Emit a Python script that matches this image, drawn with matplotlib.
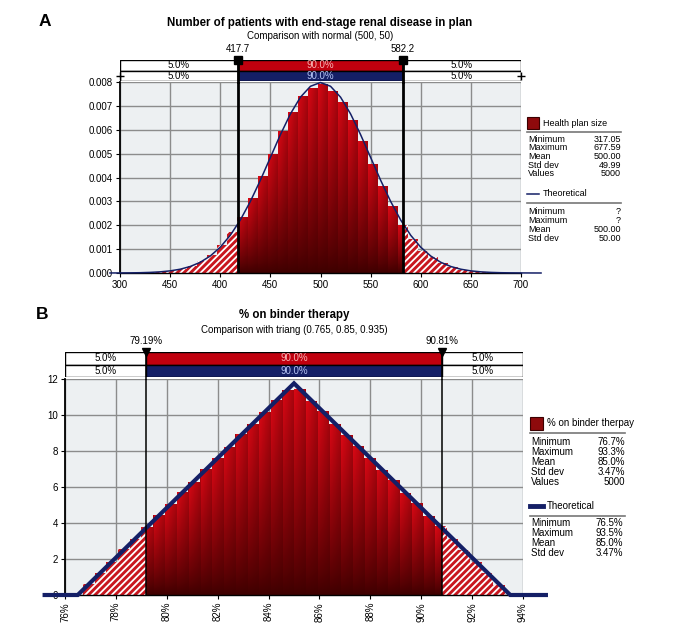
import numpy as np
import matplotlib
matplotlib.use("Agg")
import matplotlib.pyplot as plt
from matplotlib.path import Path
from matplotlib.patches import PathPatch, Rectangle
from matplotlib.lines import Line2D

plt.rcParams['font.family'] = ['Liberation Sans', 'DejaVu Sans']
plt.rcParams['hatch.linewidth'] = 1.3

# ---------------- data: panel A (health plan size) ----------------
a_bin_start = 317.05
a_bin_width = 10.015
a_heights = [0.00002, 0.00003, 0.00005, 0.00009, 0.00017, 0.00031, 0.00050, 0.00077,
             0.00118, 0.00172, 0.00233, 0.00314, 0.00405, 0.00498, 0.00593, 0.00676,
             0.00742, 0.00774, 0.00791, 0.00763, 0.00715, 0.00641, 0.00551, 0.00456,
             0.00363, 0.00279, 0.00202, 0.00142, 0.00092, 0.00066, 0.00040, 0.00024,
             0.00014, 0.00008, 0.00004, 0.00002]
a_theo_x = [290, 300, 310, 320, 330, 340, 350, 360, 370, 380, 390, 400, 410, 420, 430,
            440, 450, 460, 470, 480, 490, 500, 510, 520, 530, 540, 550, 560, 570, 580,
            590, 600, 610, 620, 630, 640, 650, 660, 670, 680, 690, 700, 710, 720]
a_theo_y = [0.000001, 0.000003, 0.000006, 0.000012, 0.000025, 0.000048, 0.000089,
            0.000158, 0.000272, 0.000448, 0.000710, 0.001080, 0.001579, 0.002218,
            0.002995, 0.003884, 0.004839, 0.005794, 0.006664, 0.007365, 0.007821,
            0.007979, 0.007821, 0.007365, 0.006664, 0.005794, 0.004839, 0.003884,
            0.002995, 0.002218, 0.001579, 0.001080, 0.000710, 0.000448, 0.000272,
            0.000158, 0.000089, 0.000048, 0.000025, 0.000012, 0.000006, 0.000003,
            0.000001, 0.0]
a_lo, a_hi = 417.7, 582.2
a_xticks = [300, 350, 400, 450, 500, 550, 600, 650, 700]
a_xticklabels = ["300", "450", "400", "450", "500", "550", "600", "650", "700"]
a_yticks = [0.000, 0.001, 0.002, 0.003, 0.004, 0.005, 0.006, 0.007, 0.008]
a_stats_labels = ["Minimum", "Maximum", "Mean", "Std dev", "Values"]
a_stats_values = ["317.05", "677.59", "500.00", "49.99", "5000"]
a_theo_labels = ["Minimum", "Maximum", "Mean", "Std dev"]
a_theo_values = ["?", "?", "500.00", "50.00"]

# ---------------- data: panel B (% on binder therapy) ----------------
b_bin_start = 76.7
b_bin_width = 0.4611
b_heights = [0.62, 1.22, 1.85, 2.55, 3.12, 3.80, 4.45, 5.05, 5.72, 6.30, 6.98, 7.62,
             8.22, 8.92, 9.50, 10.15, 10.85, 11.40, 11.45, 10.80, 10.20, 9.52, 8.88,
             8.28, 7.60, 6.95, 6.38, 5.68, 5.10, 4.40, 3.82, 3.12, 2.50, 1.85, 1.25, 0.58]
b_theo_x = [75.2, 76.5, 85.0, 93.5, 94.9]
b_theo_y = [0.0, 0.0, 11.76, 0.0, 0.0]
b_lo, b_hi = 79.19, 90.81
b_xticks = [76, 78, 80, 82, 84, 86, 88, 90, 92, 94]
b_yticks = [0, 2, 4, 6, 8, 10, 12]
b_stats_labels = ["Minimum", "Maximum", "Mean", "Std dev", "Values"]
b_stats_values = ["76.7%", "93.3%", "85.0%", "3.47%", "5000"]
b_theo_labels = ["Minimum", "Maximum", "Mean", "Std dev"]
b_theo_values = ["76.5%", "93.5%", "85.0%", "3.47%"]

W, H = 699, 629
RED = '#c0000e'
NAVY = '#141f66'
BG = '#edf0f2'
GRID = '#8c8c8c'


def fx(x):
    return x / W


def fy(y):
    return 1 - y / H


def draw_bars(ax, start, width, heights, lo, hi):
    heights = np.asarray(heights)
    n = len(heights)
    edges = start + width * np.arange(n + 1)
    verts, codes = [], []
    for i, h in enumerate(heights):
        x0, x1 = edges[i], edges[i + 1]
        s0, s1 = max(x0, lo), min(x1, hi)
        if s1 > s0:
            verts += [(s0, 0), (s1, 0), (s1, h), (s0, h), (s0, 0)]
            codes += [Path.MOVETO, Path.LINETO, Path.LINETO, Path.LINETO, Path.CLOSEPOLY]
        if x0 < lo:
            ax.bar(x0, h, width=min(x1, lo) - x0, align='edge', color='#c8161e',
                   edgecolor='white', hatch='/////', linewidth=0, zorder=1.5)
        if x1 > hi:
            ax.bar(max(x0, hi), h, width=x1 - max(x0, hi), align='edge', color='#c8161e',
                   edgecolor='white', hatch='/////', linewidth=0, zorder=1.5)
    # gradient image, clipped to the solid bars
    nx, ny = 1400, 400
    xs = np.linspace(edges[0], edges[-1], nx)
    ys = np.linspace(0, heights.max(), ny)
    pos = (xs - start) / width
    idx = np.clip(pos.astype(int), 0, n - 1)
    frac = pos - idx
    rel = np.clip(ys[:, None] / heights[idx][None, :], 0, 1)
    b = rel ** 0.8 * (1 - 0.35 * frac[None, :])
    dark = np.array([0.24, 0.0, 0.0])
    bright = np.array([0.86, 0.03, 0.08])
    rgb = dark + (bright - dark) * b[..., None]
    im = ax.imshow(rgb, extent=[edges[0], edges[-1], 0, heights.max()], origin='lower',
                   aspect='auto', interpolation='nearest', zorder=1.5)
    patch = PathPatch(Path(verts, codes), transform=ax.transData, facecolor='none',
                      edgecolor='none')
    im.set_clip_path(patch)


def style_axes(ax):
    ax.set_facecolor(BG)
    ax.grid(True, color=GRID, linewidth=1.0)
    ax.set_axisbelow(True)
    for s in ['top', 'right']:
        ax.spines[s].set_visible(False)
    ax.spines['left'].set_color('black')
    ax.spines['left'].set_linewidth(1.3)
    ax.spines['bottom'].set_color('black')
    ax.spines['bottom'].set_linewidth(1.0)
    ax.tick_params(labelsize=7, length=3, width=0.8, pad=2)


def draw_bands(fig, rect, xlim, lo, hi, lo_label, hi_label, marker, end_marks):
    bx = fig.add_axes(rect)
    bx.set_xlim(*xlim)
    bx.set_ylim(0, 2)
    bx.axis('off')
    x0, x1 = xlim
    for row, col, tcol in [(1, RED, '#f6b4b4'), (0, NAVY, '#b4c2f2')]:
        bx.add_patch(Rectangle((x0, row), lo - x0, 1, facecolor='white', edgecolor='black', lw=1))
        bx.add_patch(Rectangle((lo, row), hi - lo, 1, facecolor=col, edgecolor='black', lw=1))
        bx.add_patch(Rectangle((hi, row), x1 - hi, 1, facecolor='white', edgecolor='black', lw=1))
        bx.text((x0 + lo) / 2, row + 0.5, "5.0%", ha='center', va='center', fontsize=7)
        bx.text((lo + hi) / 2, row + 0.5, "90.0%", ha='center', va='center', fontsize=7,
                color=tcol)
        bx.text((hi + x1) / 2, row + 0.5, "5.0%", ha='center', va='center', fontsize=7)
    for xv, lab in [(lo, lo_label), (hi, hi_label)]:
        bx.plot([xv], [2], marker=marker, color='black', markersize=6,
                clip_on=False, zorder=5)
        bx.annotate(lab, (xv, 2), xytext=(0, 4), textcoords='offset points', ha='center',
                    va='bottom', fontsize=7)
    if end_marks:
        bx.plot([x0, x1], [0.5, 0.5], linestyle='none', marker='+', color='black',
                markersize=6, mew=1, clip_on=False, zorder=5)
    return bx


def draw_legend(fig, x_left, x_right, y_sq, sq, title, stats_l, stats_v, y_stats, dy,
                y_theo, theo_lw, y_sep2, theo_l, theo_v, y_theo_stats, fs, x_right2):
    fig.patches.append(Rectangle((fx(x_left), fy(y_sq + sq)), sq / W, sq / H,
                                 facecolor='#8e0a0c', edgecolor='#3a0000', lw=0.8,
                                 transform=fig.transFigure, figure=fig))
    fig.text(fx(x_left + sq + 4), fy(y_sq + sq / 2), title, fontsize=fs, va='center')
    fig.add_artist(Line2D([fx(x_left), fx(x_right)], [fy(y_sq + sq + 3)] * 2, color='#777777',
                          lw=1.2, transform=fig.transFigure))
    for i, (l, v) in enumerate(zip(stats_l, stats_v)):
        fig.text(fx(x_left + 1), fy(y_stats + i * dy), l, fontsize=fs, va='center')
        fig.text(fx(x_right), fy(y_stats + i * dy), v, fontsize=fs, va='center', ha='right')
    fig.add_artist(Line2D([fx(x_left), fx(x_left + sq)], [fy(y_theo)] * 2, color=NAVY,
                          lw=theo_lw, transform=fig.transFigure))
    fig.text(fx(x_left + sq + 4), fy(y_theo), "Theoretical", fontsize=fs, va='center')
    fig.add_artist(Line2D([fx(x_left), fx(x_right)], [fy(y_sep2)] * 2, color='#777777',
                          lw=1.2, transform=fig.transFigure))
    for i, (l, v) in enumerate(zip(theo_l, theo_v)):
        fig.text(fx(x_left + 1), fy(y_theo_stats + i * dy), l, fontsize=fs, va='center')
        fig.text(fx(x_right2), fy(y_theo_stats + i * dy), v, fontsize=fs, va='center',
                 ha='right')


fig = plt.figure(figsize=(W / 100, H / 100), dpi=100)

# ================= Panel A =================
ax_a = fig.add_axes([fx(120), fy(273), 401 / W, 191 / H])
style_axes(ax_a)
ax_a.set_xlim(300, 700)
ax_a.set_ylim(0, 0.008)
ax_a.set_xticks(a_xticks)
ax_a.set_xticklabels(a_xticklabels)
ax_a.set_yticks(a_yticks)
ax_a.set_yticklabels([f"{v:.3f}" for v in a_yticks])
draw_bars(ax_a, a_bin_start, a_bin_width, a_heights, a_lo, a_hi)
ax_a.plot(a_theo_x, a_theo_y, color=NAVY, lw=1.1, zorder=3, clip_on=False)
for xv in (a_lo, a_hi):
    ax_a.axvline(xv, color='black', lw=2, zorder=4)
draw_bands(fig, [fx(120), fy(81), 401 / W, 21 / H], (300, 700), a_lo, a_hi,
           "417.7", "582.2", 's', True)
for xv in (a_lo, a_hi):
    fig.add_artist(Line2D([fx(120 + (xv - 300) * 401 / 400)] * 2, [fy(82), fy(60)],
                          color='black', lw=2, transform=fig.transFigure))

fig.text(fx(45), fy(22), "A", fontsize=12.5, fontweight='bold', ha='center', va='center')
fig.text(fx(320), fy(23), "Number of patients with end-stage renal disease in plan",
         fontsize=8.3, fontweight='bold', ha='center', va='center')
fig.text(fx(320), fy(36), "Comparison with normal (500, 50)", fontsize=7, ha='center',
         va='center')

draw_legend(fig, 527, 621, 117, 12, "Health plan size", a_stats_labels, a_stats_values,
            139, 8.7, 194, 1.1, 203, a_theo_labels, a_theo_values, 212, 6.5, 621)

# ================= Panel B =================
ax_b = fig.add_axes([fx(65), fy(595), 458 / W, 216 / H])
style_axes(ax_b)
ax_b.set_xlim(76, 94)
ax_b.set_ylim(0, 12)
ax_b.set_xticks(b_xticks)
ax_b.set_xticklabels([f"{v}%" for v in b_xticks], rotation=90)
ax_b.set_yticks(b_yticks)
draw_bars(ax_b, b_bin_start, b_bin_width, b_heights, b_lo, b_hi)
ax_b.plot(b_theo_x, b_theo_y, color=NAVY, lw=3, zorder=3, clip_on=False,
          solid_joinstyle='miter')
for xv in (b_lo, b_hi):
    ax_b.axvline(xv, color='black', lw=1.1, zorder=4)
draw_bands(fig, [fx(65), fy(377), 458 / W, 25 / H], (76, 94), b_lo, b_hi,
           "79.19%", "90.81%", 'v', False)
for xv in (b_lo, b_hi):
    fig.add_artist(Line2D([fx(65 + (xv - 76) * 458 / 18)] * 2, [fy(379), fy(352)],
                          color='black', lw=1.1, transform=fig.transFigure))

fig.text(fx(42), fy(315), "B", fontsize=12.5, fontweight='bold', ha='center', va='center')
fig.text(fx(294), fy(315), "% on binder therapy", fontsize=8.3, fontweight='bold',
         ha='center', va='center')
fig.text(fx(294), fy(330), "Comparison with triang (0.765, 0.85, 0.935)", fontsize=7,
         ha='center', va='center')

draw_legend(fig, 530, 625, 417, 13, "% on binder therpay", b_stats_labels, b_stats_values,
            442, 10, 506, 3.5, 516, b_theo_labels, b_theo_values, 523, 7, 623)

fig.savefig("out.png", dpi=100)
